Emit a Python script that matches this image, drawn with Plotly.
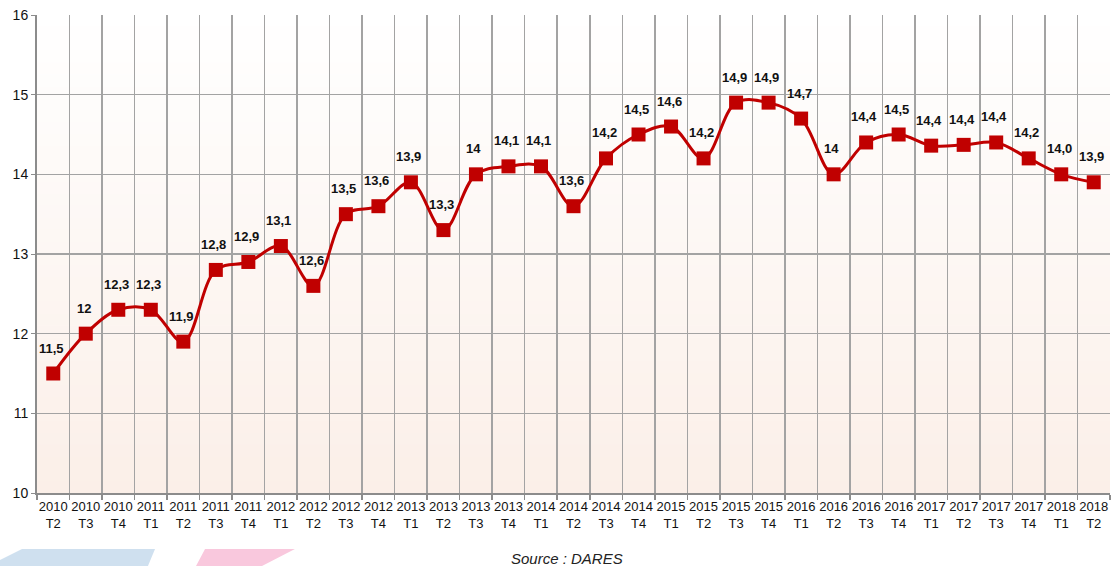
import plotly.graph_objects as go

years = ["2010", "2010", "2010", "2011", "2011", "2011", "2011", "2012", "2012", "2012", "2012",
         "2013", "2013", "2013", "2013", "2014", "2014", "2014", "2014", "2015", "2015", "2015",
         "2015", "2016", "2016", "2016", "2016", "2017", "2017", "2017", "2017", "2018", "2018"]
quarters = ["T2", "T3", "T4", "T1", "T2", "T3", "T4", "T1", "T2", "T3", "T4",
            "T1", "T2", "T3", "T4", "T1", "T2", "T3", "T4", "T1", "T2", "T3",
            "T4", "T1", "T2", "T3", "T4", "T1", "T2", "T3", "T4", "T1", "T2"]
values = [11.5, 12.0, 12.3, 12.3, 11.9, 12.8, 12.9, 13.1, 12.6, 13.5, 13.6,
          13.9, 13.3, 14.0, 14.1, 14.1, 13.6, 14.2, 14.5, 14.6, 14.2, 14.9,
          14.9, 14.7, 14.0, 14.4, 14.5, 14.36, 14.37, 14.4, 14.2, 14.0, 13.9]
labels = ["11,5", "12", "12,3", "12,3", "11,9", "12,8", "12,9", "13,1", "12,6", "13,5", "13,6",
          "13,9", "13,3", "14", "14,1", "14,1", "13,6", "14,2", "14,5", "14,6", "14,2", "14,9",
          "14,9", "14,7", "14", "14,4", "14,5", "14,4", "14,4", "14,4", "14,2", "14,0", "13,9"]

categories = [f"{y}<br>{q}" for y, q in zip(years, quarters)]

RED = "#c00000"
GRID = "#a3a3a3"
FONT = "Arial, Liberation Sans, sans-serif"

W, H = 1112, 566
L, R, T, B = 37, 1110, 15, 493  # plot area in window pixels

fig = go.Figure()
fig.add_trace(go.Scatter(
    x=categories, y=values, mode="lines+markers",
    line=dict(color=RED, width=3, shape="spline", smoothing=1.0),
    marker=dict(symbol="square", size=14, color=RED),
    hoverinfo="skip", showlegend=False,
))

def px(x):
    return (x - L) / (R - L)
def py(y):
    return (B - y) / (B - T)

annotations = []
for c, v, t in zip(categories, values, labels):
    annotations.append(dict(
        x=c, y=v, text=f"<b>{t}</b>", showarrow=False, xanchor="center", yanchor="bottom",
        yshift=16, xshift=-2, font=dict(family=FONT, size=13, color="#111"),
    ))
annotations.append(dict(
    x=px(567), y=py(558), xref="paper", yref="paper", text="<i>Source : DARES</i>", showarrow=False,
    xanchor="center", yanchor="middle", font=dict(family=FONT, size=15, color="#222"),
))

# background gradient (white at top to light peach at bottom)
shapes = []
n = 40
top = (255, 255, 255)
bot = (251, 239, 232)
for i in range(n):
    f = (i + 0.5) / n
    col = tuple(round(top[k] + (bot[k] - top[k]) * f) for k in range(3))
    shapes.append(dict(
        type="rect", xref="paper", yref="paper", x0=0, x1=1,
        y0=1 - (i + 1) / n, y1=1 - i / n + 0.001,
        fillcolor=f"rgb{col}", line=dict(width=0), layer="below",
    ))

def path(pts):
    return "M " + " L ".join(f"{px(a):.4f},{py(b):.4f}" for a, b in pts) + " Z"
shapes.append(dict(type="path", xref="paper", yref="paper",
                   path=path([(0, 566), (0, 560), (22, 549), (155, 549), (148, 566)]),
                   fillcolor="#cfe0ef", line=dict(width=0), layer="below"))
shapes.append(dict(type="path", xref="paper", yref="paper",
                   path=path([(196, 566), (205, 549), (295, 549), (262, 566)]),
                   fillcolor="#f9c8dd", line=dict(width=0), layer="below"))

fig.update_layout(
    width=W, height=H,
    margin=dict(l=L, r=W - R, t=T, b=H - B),
    paper_bgcolor="white", plot_bgcolor="rgba(0,0,0,0)",
    shapes=shapes, annotations=annotations,
    font=dict(family=FONT, size=13, color="#111"),
)
fig.update_xaxes(
    type="category", range=[-0.5, 32.5], tickson="boundaries",
    showgrid=True, gridcolor=GRID, gridwidth=1.5,
    showline=True, linecolor="#8c8c8c", linewidth=2,
    ticks="outside", ticklen=5, tickcolor="#8c8c8c", tickwidth=1.5,
    tickfont=dict(family=FONT, size=13, color="#111"), tickangle=0, automargin=False,
)
fig.update_yaxes(
    range=[10, 16], dtick=1, showgrid=True, gridcolor=GRID, gridwidth=1.5,
    showline=True, linecolor="#8c8c8c", linewidth=2,
    ticks="outside", ticklen=4, tickcolor="#8c8c8c",
    tickfont=dict(family=FONT, size=14, color="#111"), zeroline=False, automargin=False,
)
fig.write_html(
    "out.html",
    config={"displayModeBar": False, "staticPlot": True},
    post_script="document.body.style.margin='0';document.body.style.overflow='hidden';"
                "document.documentElement.style.overflow='hidden';",
)
